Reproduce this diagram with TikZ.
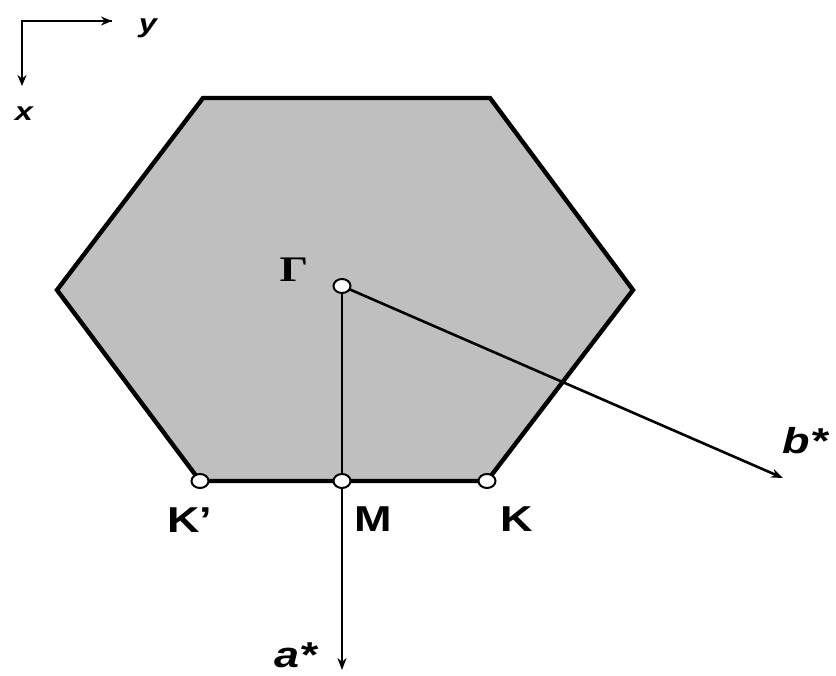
\documentclass[tikz,border=0pt]{standalone}
\usepackage{fontspec}
\setmainfont{Liberation Sans}
\newfontfamily\gammafont{Liberation Serif}
\usetikzlibrary{arrows.meta,shapes.geometric}
\newcommand{\wide}[1]{\scalebox{1.25}[1]{#1}}
\begin{document}
\begin{tikzpicture}[x=1pt,y=-1pt,
  hexline/.style={line width=4.4pt,line join=miter},
  vec/.style={line width=2.6pt,-{Stealth[length=12pt,width=9pt]}},
  pt/.style={ellipse,draw,fill=white,line width=2pt,inner sep=0pt,minimum width=17pt,minimum height=14pt},
  lab/.style={font=\bfseries\fontsize{36}{38}\selectfont},
  ilab/.style={font=\bfseries\itshape\fontsize{36}{38}\selectfont},
  axlab/.style={font=\bfseries\itshape\fontsize{26}{28}\selectfont}]
\useasboundingbox (0,0) rectangle (836,676);
\fill[white] (0,0) rectangle (836,676);
% hexagon
\coordinate (h1) at (203,98);
\coordinate (h2) at (490,98);
\coordinate (h3) at (633,290);
\coordinate (h4) at (487,481);
\coordinate (h5) at (200,481);
\coordinate (h6) at (57,290);
\filldraw[fill=black!25,draw=black,hexline] (h1) -- (h2) -- (h3) -- (h4) -- (h5) -- (h6) -- cycle;
% axes
\coordinate (c0) at (22,21);
\coordinate (oy) at (112,21);
\coordinate (ox) at (22,86);
\draw[line width=2.6pt,line join=miter,-{Stealth[length=11pt,width=9pt]}] (oy) -- (c0) -- (ox);
\draw[line width=2.6pt,-{Stealth[length=11pt,width=9pt]}] (c0) -- (oy);
\node[axlab] (ylab) at (148,28) {\wide{y}};
\node[axlab] (xlab) at (24,114) {\wide{x}};
% points
\coordinate (Gc) at (342,286);
\coordinate (Mc) at (342,481);
\coordinate (aend) at (342,670);
\coordinate (bend) at (783,478);
\draw[vec] (Gc) -- (aend);
\draw[vec] (Gc) -- (bend);
\node[pt] (G) at (Gc) {};
\node[pt] (M) at (Mc) {};
\node[pt] (Kp) at (h5) {};
\node[pt] (K) at (h4) {};
% labels
\node[font=\gammafont\bfseries\fontsize{36}{38}\selectfont] (Glab) at (294,270) {\wide{Γ}};
\node[lab] (Kplab) at (190,520) {\wide{K’}};
\node[lab] (Mlab) at (373,519) {\wide{M}};
\node[lab] (Klab) at (517,519) {\wide{K}};
\node[ilab] (alab) at (296,655) {\wide{a*}};
\node[ilab] (blab) at (805,441) {\wide{b*}};
\end{tikzpicture}
\end{document}
